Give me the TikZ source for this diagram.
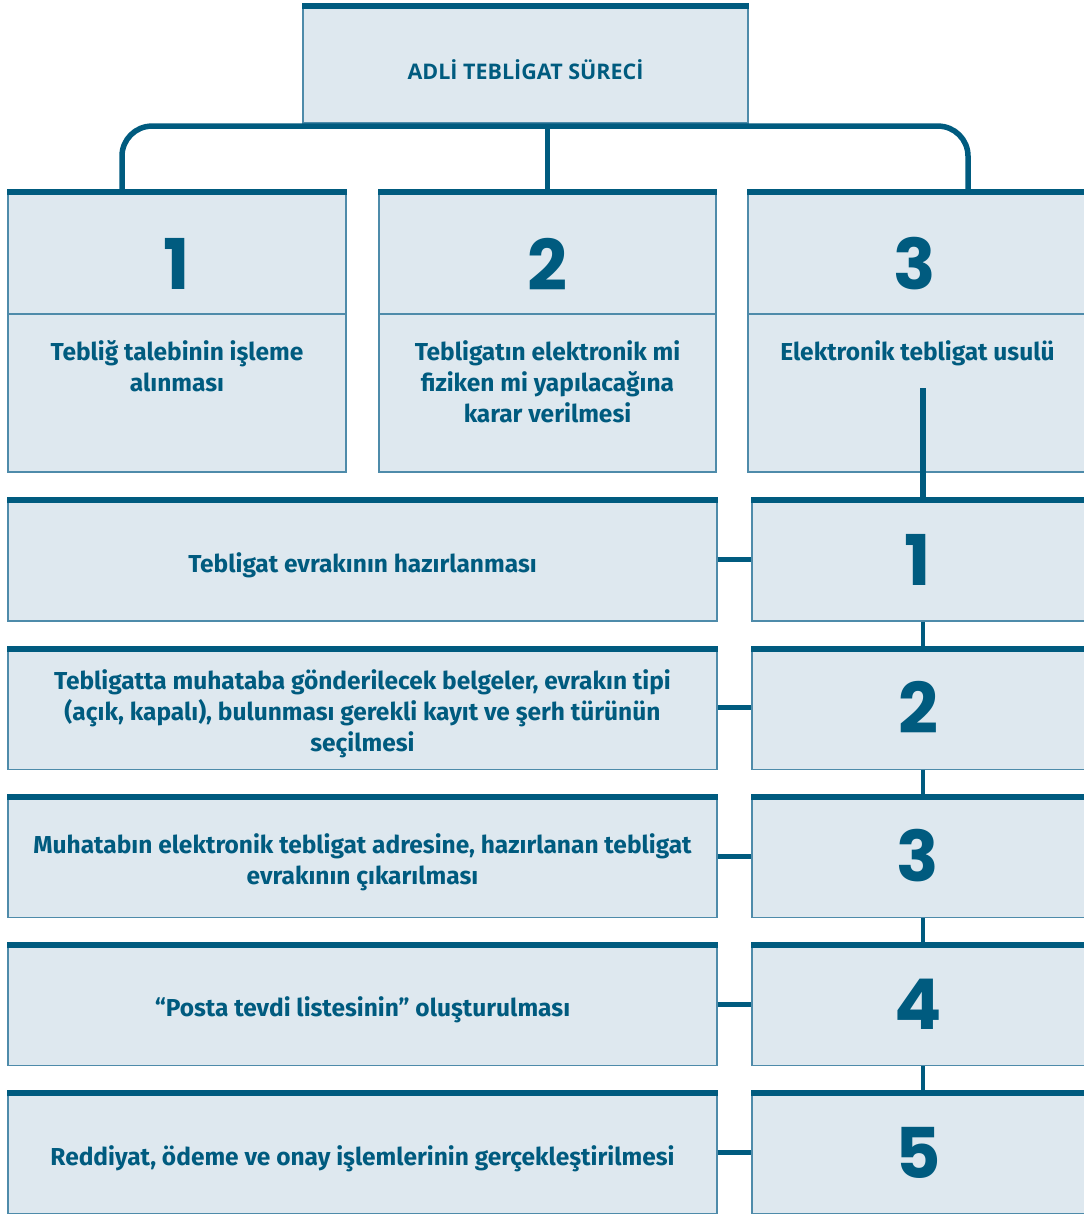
\documentclass[tikz,border=0pt]{standalone}
\usepackage{fontspec}
\setmainfont{Fira Sans}
\newfontfamily\titlefont{Open Sans}
\newfontfamily\numfont{Poppins}
\usepackage{tikz}
\definecolor{tealdark}{HTML}{005B7F}
\definecolor{boxfill}{HTML}{DEE8EF}
\definecolor{boxline}{HTML}{4E8BAA}
\tikzset{
	box/.style={
		shape = rectangle,
		draw = boxline,
		line width = 1.2pt,
		fill = boxfill,
		inner sep = 0pt
	},
	topbar/.style={
		draw = tealdark,
		line width = 6pt
	},
	link/.style={
		draw = tealdark,
		line width = 5.5pt
	},
	txt/.style={
		text = tealdark,
		inner sep = 0pt,
		align = center,
		font = \bfseries\fontsize{24.5}{31}\selectfont
	},
	num/.style={
		text = tealdark,
		inner sep = 0pt,
		font = \numfont\bfseries\fontsize{70}{70}\selectfont
	},
}

\begin{document}
\begin{tikzpicture}[x=1pt, y=1pt]
    \useasboundingbox (0,0) rectangle (1083,-1214);
    % title
    \node[box, minimum width=445pt, minimum height=119pt] (title) at (525.5,-63.5) {};
    \draw[topbar] ([yshift=-3pt]title.north west) -- ([yshift=-3pt]title.north east);
    \node[text=tealdark, font=\titlefont\bfseries\fontsize{21.5}{25}\selectfont] (titletxt) at (525.5,-69.5) {ADLİ TEBLİGAT SÜRECİ};
    % upper row
    \foreach \i/\x/\w/\nx in {1/177/338/177, 2/547.5/337/547.5, 3/919/342/915}{
      \node[box, minimum width=\w pt, minimum height=124pt] (head\i) at (\x,-252) {};
      \node[box, minimum width=\w pt, minimum height=158pt] (txt\i) at (\x,-393) {};
      \draw[topbar] ([yshift=-3pt]head\i.north west) -- ([yshift=-3pt]head\i.north east);
      \node[num] (n\i) at (\nx,-264) {\i};
    }
    \node[txt, anchor=north] (t1) at (177,-340) {Tebliğ talebinin işleme\\alınması};
    \node[txt, anchor=north] (t2) at (547.5,-340) {Tebligatın elektronik mi\\fiziken mi yapılacağına\\karar verilmesi};
    \node[txt, anchor=north] (t3) at (917.5,-340) {Elektronik tebligat usulü};
    % bracket
    \draw[link, rounded corners=30pt] ([xshift=-55pt]head1.north) |- ([yshift=-2.5pt]title.south) -| ([xshift=49pt]head3.north);
    \draw[link] (head2.north) -- ([yshift=-123pt]head2.north |- title.north);
    % steps
    \foreach \r/\txt in {1/{Tebligat evrakının hazırlanması},
        2/{Tebligatta muhataba gönderilecek belgeler, evrakın tipi\\(açık, kapalı), bulunması gerekli kayıt ve şerh türünün\\seçilmesi},
        3/{Muhatabın elektronik tebligat adresine, hazırlanan tebligat\\evrakının çıkarılması},
        4/{“Posta tevdi listesinin” oluşturulması},
        5/{Reddiyat, ödeme ve onay işlemlerinin gerçekleştirilmesi}}{
      \pgfmathsetmacro{\yc}{-(498+148.25*(\r-1)+61.5)}
      \node[box, minimum width=709pt, minimum height=123pt] (lb\r) at (362.5,\yc) {};
      \node[box, minimum width=342pt, minimum height=123pt] (rb\r) at (923,\yc) {};
      \draw[topbar] ([yshift=-3pt]lb\r.north west) -- ([yshift=-3pt]lb\r.north east);
      \draw[topbar] ([yshift=-3pt]rb\r.north west) -- ([yshift=-3pt]rb\r.north east);
      \node[txt] (s\r) at (362.5,\yc-6) {\txt};
      \node[num] (m\r) at (918,\yc) {\r};
      \draw[link, line width=5pt] (lb\r.east) -- (rb\r.west);
    }
    \draw[link] ([yshift=5pt]txt3.center -| rb1.north) -- (rb1.north);
    \foreach \r [evaluate=\r as \q using int(\r+1)] in {1,...,4}{
      \draw[link, line width=4.5pt] (rb\r.south) -- (rb\q.north);
    }
\end{tikzpicture}
\end{document}
